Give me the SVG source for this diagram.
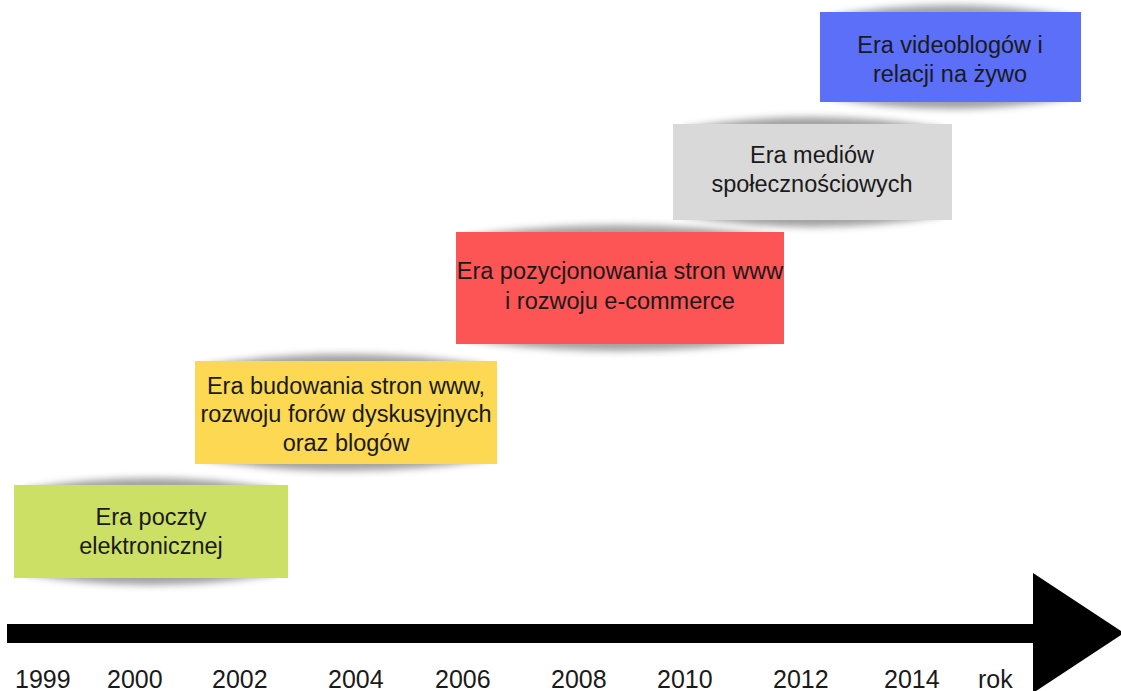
<svg xmlns="http://www.w3.org/2000/svg" width="1121" height="691" viewBox="0 0 1121 691">
<style>
.t{font-family:"Liberation Sans",Arial,sans-serif;font-size:23.5px;fill:#1a1a1a;text-anchor:middle}
.y{font-family:"Liberation Sans",Arial,sans-serif;font-size:25px;fill:#1a1a1a}
.sh{fill:#7a7a7a;opacity:0.7;filter:url(#blur)}
</style>
<defs>
<filter id="blur" x="-10%" y="-30%" width="120%" height="160%"><feGaussianBlur stdDeviation="3.5"/></filter>
</defs>
<rect width="1121" height="691" fill="#ffffff"/>

<g id="node-poczta">
<path class="sh" d="M24,489 Q151,467 278,489 L278,574 Q151,596 24,574 Z"/>
<rect x="14" y="485" width="274" height="93" fill="#cce066"/>
<text class="t" x="151" y="525">Era poczty</text>
<text class="t" x="151" y="554">elektronicznej</text>
</g>

<g id="node-www">
<path class="sh" d="M205,365 Q346,343 487,365 L487,460 Q346,482 205,460 Z"/>
<rect x="195" y="361" width="302" height="103" fill="#fcd853"/>
<text class="t" x="346" y="394">Era budowania stron www,</text>
<text class="t" x="346" y="422">rozwoju forów dyskusyjnych</text>
<text class="t" x="346" y="451">oraz blogów</text>
</g>

<g id="node-seo">
<path class="sh" d="M466,236 Q620,214 774,236 L774,340 Q620,362 466,340 Z"/>
<rect x="456" y="232" width="328" height="112" fill="#fd5455"/>
<text class="t" x="620" y="279">Era pozycjonowania stron www</text>
<text class="t" x="620" y="309">i rozwoju e-commerce</text>
</g>

<g id="node-social">
<path class="sh" d="M683,128 Q812,106 942,128 L942,216 Q812,238 683,216 Z"/>
<rect x="673" y="124" width="279" height="96" fill="#d9d9d9"/>
<text class="t" x="812" y="163">Era mediów</text>
<text class="t" x="812" y="192">społecznościowych</text>
</g>

<g id="node-video">
<path class="sh" d="M830,16 Q950,-6 1071,16 L1071,98 Q950,120 830,98 Z"/>
<rect x="820" y="12" width="261" height="90" fill="#5b6ff8"/>
<text class="t" x="950" y="53">Era videoblogów i</text>
<text class="t" x="950" y="82">relacji na żywo</text>
</g>

<g id="connectors">
<rect x="7" y="624" width="1030" height="19" fill="#000000"/>
<polygon points="1033,573 1124,633 1033,693" fill="#000000"/>
</g>

<g id="axis-labels">
<text class="y" x="15" y="688">1999</text>
<text class="y" x="107" y="688">2000</text>
<text class="y" x="212" y="688">2002</text>
<text class="y" x="328" y="688">2004</text>
<text class="y" x="435" y="688">2006</text>
<text class="y" x="551" y="688">2008</text>
<text class="y" x="657" y="688">2010</text>
<text class="y" x="773" y="688">2012</text>
<text class="y" x="884" y="688">2014</text>
<text class="y" x="978" y="688">rok</text>
</g>
</svg>
